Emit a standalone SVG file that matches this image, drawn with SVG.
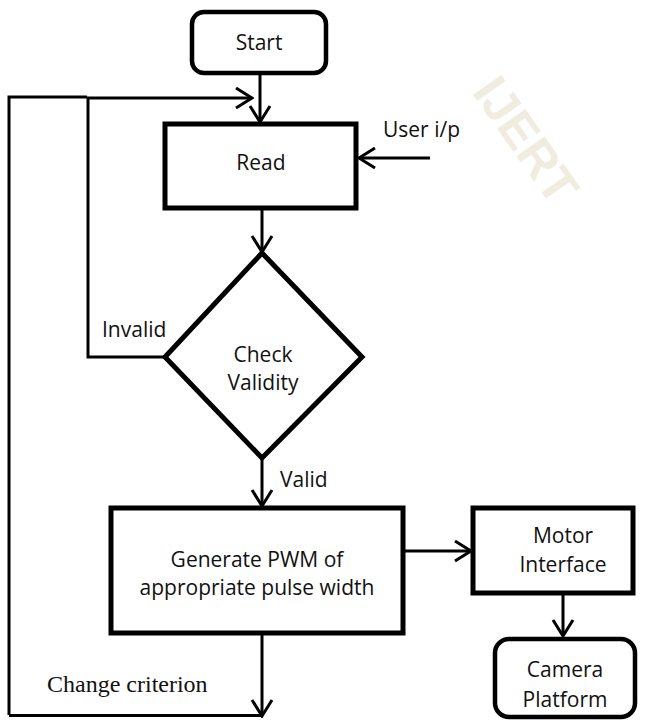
<svg xmlns="http://www.w3.org/2000/svg" width="651" height="728" viewBox="0 0 651 728">
<style>
  .box { fill: #ffffff; stroke: #000000; stroke-width: 5; }
  .rbox { fill: #ffffff; stroke: #000000; stroke-width: 4.5; }
  .lbl { font-family: "Open Sans", "Liberation Sans", sans-serif; font-size: 21px; fill: #111111; text-anchor: middle; }
  .side { font-family: "Open Sans", "Liberation Sans", sans-serif; font-size: 21px; fill: #111111; }
  .serif { font-family: "Liberation Serif", serif; font-size: 24px; fill: #111111; }
  .conn { fill: none; stroke: #000000; stroke-width: 3; }
</style>
<defs>
  <marker id="arr" viewBox="0 0 20 24" refX="18" refY="12" markerWidth="20" markerHeight="24" markerUnits="userSpaceOnUse" orient="auto">
    <path d="M2,2 L18,12 L2,22" fill="none" stroke="#000000" stroke-width="3"/>
  </marker>
</defs>
<rect width="651" height="728" fill="#ffffff"/>
<text x="512" y="150" transform="rotate(55 512 150)" font-family="Liberation Sans, sans-serif" font-size="50" font-weight="bold" fill="#e4dcc4" fill-opacity="0.55" text-anchor="middle">IJERT</text>
<g id="connectors">
  <line class="conn" x1="260" y1="73" x2="260" y2="122" marker-end="url(#arr)"/>
  <polyline class="conn" points="9,715 9,97 87,97"/>
  <polyline class="conn" points="165,357 88,357 88,98 252,98" marker-end="url(#arr)"/>
  <line class="conn" x1="430" y1="158" x2="359" y2="158" marker-end="url(#arr)"/>
  <line class="conn" x1="262" y1="208" x2="262" y2="252" marker-end="url(#arr)"/>
  <line class="conn" x1="262" y1="458" x2="262" y2="506" marker-end="url(#arr)"/>
  <line class="conn" x1="403" y1="551" x2="471" y2="551" marker-end="url(#arr)"/>
  <line class="conn" x1="563" y1="593" x2="563" y2="636" marker-end="url(#arr)"/>
  <line class="conn" x1="262" y1="633" x2="262" y2="716" marker-end="url(#arr)"/>
  <line class="conn" x1="9" y1="715.5" x2="262" y2="715.5"/>
  <text class="side" x="102" y="337">Invalid</text>
  <text class="side" x="280" y="487">Valid</text>
  <text class="side" x="383" y="137">User i/p</text>
  <text class="serif" x="47" y="692">Change criterion</text>
</g>
<g id="start">
  <rect class="rbox" x="192" y="12" width="134" height="61" rx="12" ry="12"/>
  <text class="lbl" x="259" y="50">Start</text>
</g>
<g id="read">
  <rect class="box" x="165" y="124" width="191" height="84"/>
  <text class="lbl" x="261" y="170">Read</text>
</g>
<g id="check">
  <polygon class="box" points="262,253 362,357 262,458 165,357" stroke-width="5.5" stroke-linejoin="miter"/>
  <text class="lbl" x="263" y="362">Check</text>
  <text class="lbl" x="263" y="390">Validity</text>
</g>
<g id="pwm">
  <rect class="box" x="111" y="508" width="292" height="125"/>
  <text class="lbl" x="257" y="567">Generate PWM of</text>
  <text class="lbl" x="257" y="595">appropriate pulse width</text>
</g>
<g id="motor">
  <rect class="box" x="473" y="508" width="160" height="85"/>
  <text class="lbl" x="563" y="543">Motor</text>
  <text class="lbl" x="563" y="572">Interface</text>
</g>
<g id="camera">
  <rect class="rbox" x="495" y="639" width="140" height="78" rx="14" ry="14"/>
  <text class="lbl" x="565" y="677">Camera</text>
  <text class="lbl" x="565" y="707">Platform</text>
</g>
</svg>
